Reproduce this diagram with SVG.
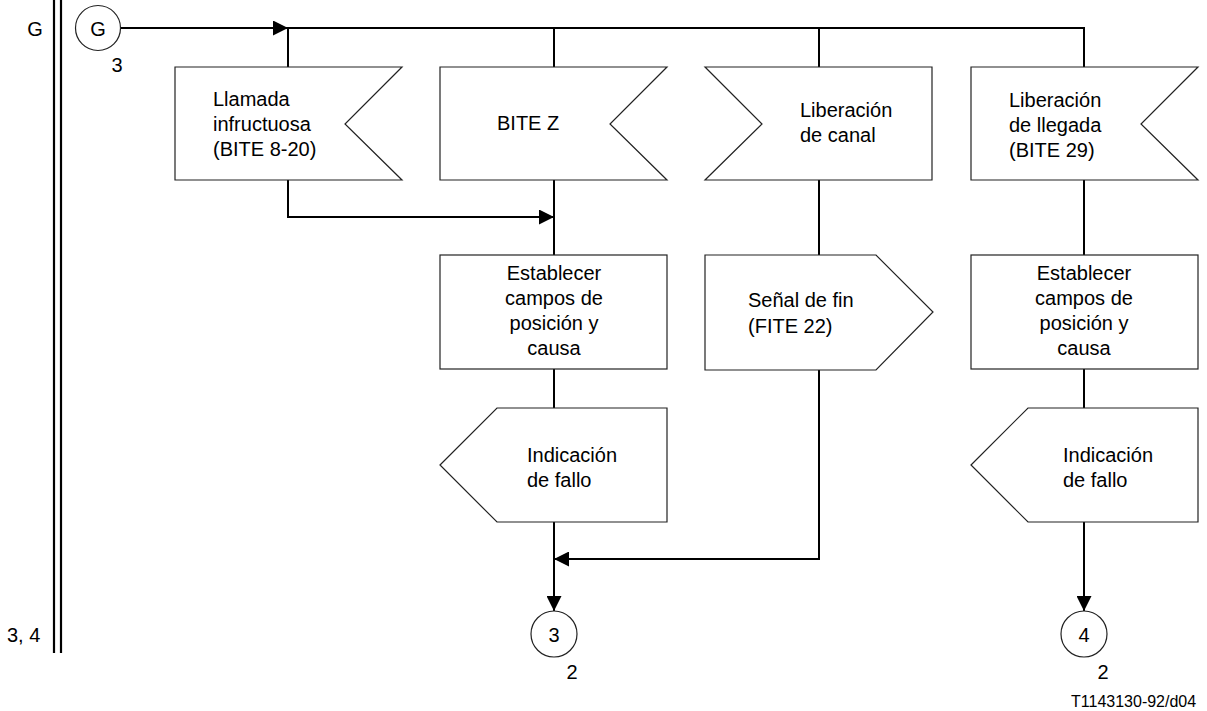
<svg xmlns="http://www.w3.org/2000/svg" width="1207" height="711" viewBox="0 0 1207 711">
  <style>
    text { font-family: "Liberation Sans", Arial, sans-serif; font-size: 20px; fill: #000; }
    .mid { text-anchor: middle; }
    .small { font-size: 16px; }
    .shape { fill: #fff; stroke: #222; stroke-width: 1.2; }
    .conn { fill: none; stroke: #000; stroke-width: 2; }
    .rail { stroke: #000; stroke-width: 2.2; }
  </style>
  <defs>
    <marker id="arrow" viewBox="0 0 15 15" refX="15" refY="7.5" markerWidth="15" markerHeight="15" markerUnits="userSpaceOnUse" orient="auto">
      <path d="M0,0 L15,7.5 L0,15 Z" fill="#000"/>
    </marker>
  </defs>

  <!-- left page rail and its labels -->
  <g id="rail">
    <line class="rail" x1="54" y1="0" x2="54" y2="653"/>
    <line class="rail" x1="61" y1="0" x2="61" y2="653"/>
    <text x="35" y="36" class="mid">G</text>
    <text x="7" y="642">3, 4</text>
  </g>

  <!-- connectors -->
  <g id="connectors">
    <!-- bus from entry connector G -->
    <path class="conn" d="M120,28 H1084 V67"/>
    <path class="conn" d="M120,28 H288" marker-end="url(#arrow)"/>
    <line class="conn" x1="288" y1="28" x2="288" y2="67"/>
    <line class="conn" x1="554" y1="28" x2="554" y2="67"/>
    <line class="conn" x1="819" y1="28" x2="819" y2="67"/>
    <!-- column 1 joins column 2 -->
    <path class="conn" d="M288,180 V217 H554" marker-end="url(#arrow)"/>
    <!-- column 2 -->
    <line class="conn" x1="554" y1="180" x2="554" y2="255"/>
    <line class="conn" x1="554" y1="369" x2="554" y2="408"/>
    <line class="conn" x1="554" y1="522" x2="554" y2="611" marker-end="url(#arrow)"/>
    <!-- column 3 -->
    <line class="conn" x1="819" y1="180" x2="819" y2="255"/>
    <path class="conn" d="M819,370 V559 H554" marker-end="url(#arrow)"/>
    <!-- column 4 -->
    <line class="conn" x1="1084" y1="180" x2="1084" y2="255"/>
    <line class="conn" x1="1084" y1="369" x2="1084" y2="408"/>
    <line class="conn" x1="1084" y1="522" x2="1084" y2="611" marker-end="url(#arrow)"/>
  </g>

  <!-- entry connector G -->
  <g id="conn-G">
    <circle class="shape" cx="98" cy="28" r="22.5"/>
    <text x="98" y="36" class="mid">G</text>
    <text x="117" y="72" class="mid">3</text>
  </g>

  <!-- input: unsuccessful call -->
  <g id="in-llamada">
    <polygon class="shape" points="175,67 402,67 345,124 402,180 175,180"/>
    <text x="213" y="106">Llamada</text>
    <text x="213" y="131">infructuosa</text>
    <text x="213" y="156">(BITE 8-20)</text>
  </g>

  <!-- input: BITE Z -->
  <g id="in-bitez">
    <polygon class="shape" points="440,67 667,67 610,124 667,180 440,180"/>
    <text x="497" y="130">BITE Z</text>
  </g>

  <!-- input from the right: channel release -->
  <g id="in-canal">
    <polygon class="shape" points="705,67 932,67 932,180 705,180 762,124"/>
    <text x="800" y="117">Liberación</text>
    <text x="800" y="142">de canal</text>
  </g>

  <!-- input: incoming release -->
  <g id="in-llegada">
    <polygon class="shape" points="971,67 1198,67 1141,124 1198,180 971,180"/>
    <text x="1009" y="107">Liberación</text>
    <text x="1009" y="132">de llegada</text>
    <text x="1009" y="157">(BITE 29)</text>
  </g>

  <!-- task: set position and cause fields (column 2) -->
  <g id="task-campos-1">
    <rect class="shape" x="440" y="255" width="227" height="114"/>
    <text x="554" y="280" class="mid">Establecer</text>
    <text x="554" y="305" class="mid">campos de</text>
    <text x="554" y="330" class="mid">posición y</text>
    <text x="554" y="355" class="mid">causa</text>
  </g>

  <!-- output: end signal -->
  <g id="out-fin">
    <polygon class="shape" points="705,255 876,255 933,312 876,370 705,370"/>
    <text x="748" y="307">Señal de fin</text>
    <text x="748" y="333">(FITE 22)</text>
  </g>

  <!-- task: set position and cause fields (column 4) -->
  <g id="task-campos-2">
    <rect class="shape" x="971" y="255" width="227" height="114"/>
    <text x="1084" y="280" class="mid">Establecer</text>
    <text x="1084" y="305" class="mid">campos de</text>
    <text x="1084" y="330" class="mid">posición y</text>
    <text x="1084" y="355" class="mid">causa</text>
  </g>

  <!-- output to the left: failure indication (column 2) -->
  <g id="out-fallo-1">
    <polygon class="shape" points="440,465 497,408 667,408 667,522 497,522"/>
    <text x="527" y="462">Indicación</text>
    <text x="527" y="487">de fallo</text>
  </g>

  <!-- output to the left: failure indication (column 4) -->
  <g id="out-fallo-2">
    <polygon class="shape" points="971,465 1028,408 1198,408 1198,522 1028,522"/>
    <text x="1063" y="462">Indicación</text>
    <text x="1063" y="487">de fallo</text>
  </g>

  <!-- exit connectors -->
  <g id="conn-3">
    <circle class="shape" cx="554" cy="634" r="23"/>
    <text x="554" y="642" class="mid">3</text>
    <text x="572" y="679" class="mid">2</text>
  </g>
  <g id="conn-4">
    <circle class="shape" cx="1084" cy="634" r="23"/>
    <text x="1084" y="642" class="mid">4</text>
    <text x="1103" y="679" class="mid">2</text>
  </g>

  <text x="1071" y="707" class="small">T1143130-92/d04</text>
</svg>
